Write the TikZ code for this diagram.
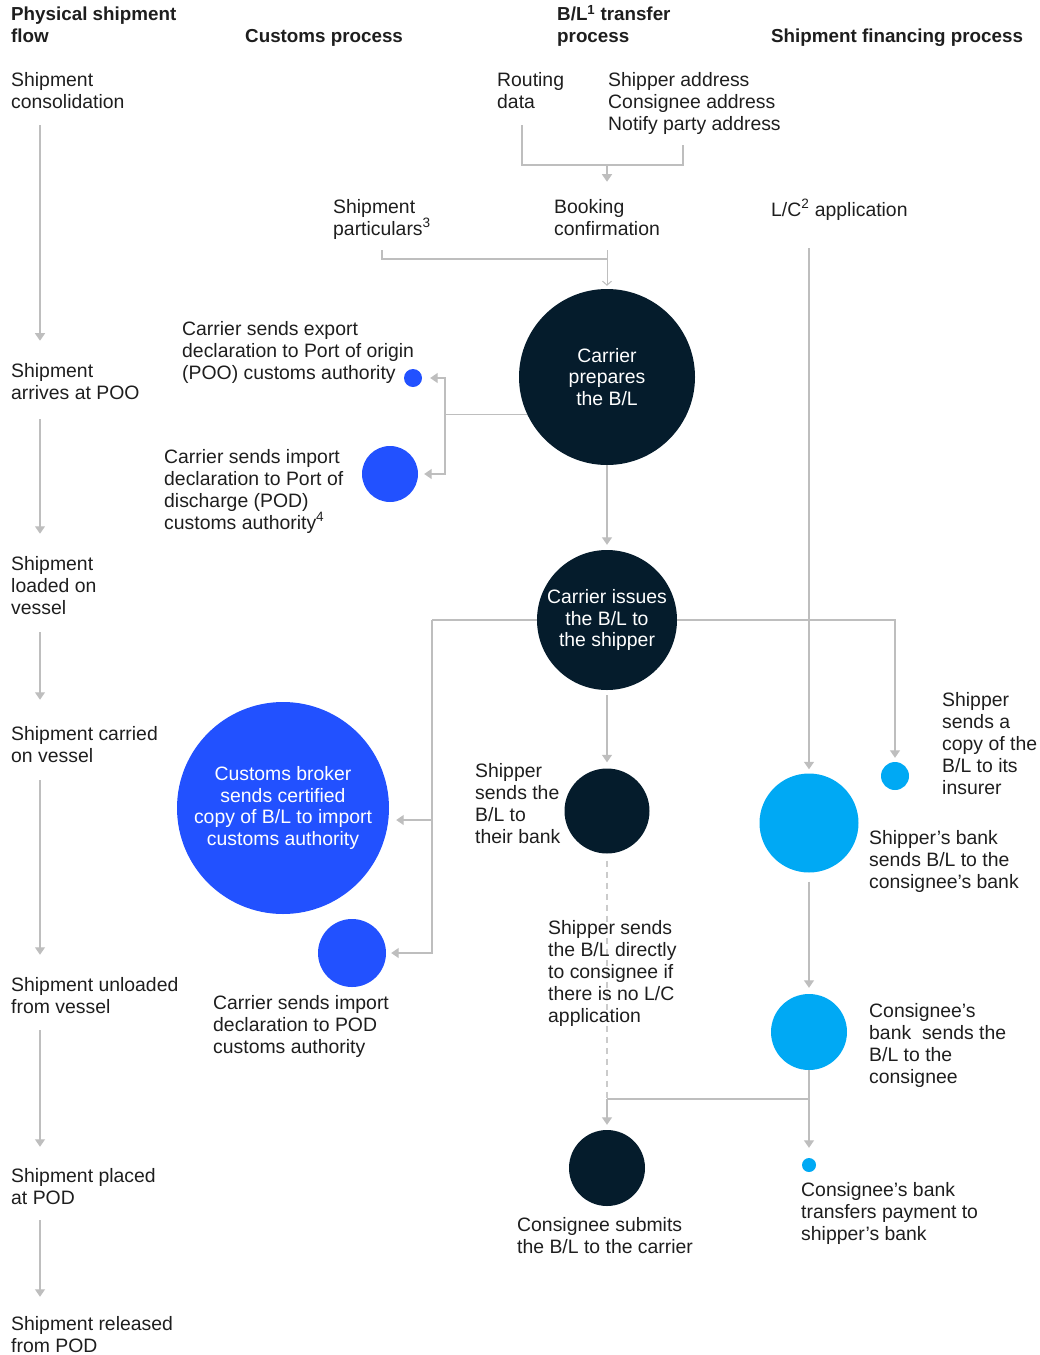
\documentclass[tikz,border=0pt]{standalone}
\usepackage{fontspec}
\setmainfont{Liberation Sans}
\usepackage{xcolor}
\usepackage{tikz}
\usetikzlibrary{math,arrows.meta}

\definecolor{navy}{HTML}{051C2C}
\definecolor{royal}{HTML}{2251FF}
\definecolor{sky}{HTML}{00A9F4}
\definecolor{linegray}{HTML}{BEBEBE}
\definecolor{ink}{HTML}{1E1E1E}

\tikzset{
	txt/.style={anchor=base west, inner sep=0pt, align=left, text=ink, font=\fontsize{19.4}{22}\selectfont},
	head/.style={txt, font=\fontsize{18.8}{21.5}\selectfont\bfseries},
	link/.style={draw=linegray, line width=1.3pt},
	arr/.style={link, -{Triangle[length=7.5pt,width=10pt]}},
	barb/.style={link, line width=1pt, -{Straight Barb[length=4pt,width=9pt]}},
	bub/.style={circle, inner sep=0pt, minimum size=#1, align=center, text=white, font=\fontsize{19.4}{21.7}\selectfont},
}

\begin{document}
\begin{tikzpicture}[x=1pt,y=-1pt]
\useasboundingbox (0,0) rectangle (1040,1355);
\tikzmath{
	\lx = 11; \cx = 607; \fx = 809;
	% column heads (base = last line)
	{\node[head] (hphys) at (\lx,42) {Physical shipment\\flow};};
	{\node[head] (hcust) at (245,42) {Customs process};};
	{\node[head] (hbl) at (557,42) {B/L\textsuperscript{1} transfer\\process};};
	{\node[head] (hfin) at (771,42) {Shipment financing process};};
	%
	% physical flow
	{\node[txt] (s1) at (\lx,108) {Shipment\\consolidation};};
	{\node[txt] (s2) at (\lx,399) {Shipment\\arrives at POO};};
	{\node[txt] (s3) at (\lx,614) {Shipment\\loaded on\\vessel};};
	{\node[txt] (s4) at (\lx,762) {Shipment carried\\on vessel};};
	{\node[txt] (s5) at (\lx,1013) {Shipment unloaded\\from vessel};};
	{\node[txt] (s6) at (\lx,1204) {Shipment placed\\at POD};};
	{\node[txt] (s7) at (\lx,1352) {Shipment released\\from POD};};
	{\draw[arr] ([xshift=29pt,yshift=-17pt]s1.south west) -- ([xshift=29pt,yshift=22pt]s2.north west);};
	{\draw[arr] ([xshift=29pt,yshift=-20pt]s2.south west) -- ([xshift=29pt,yshift=22pt]s3.north west);};
	{\draw[arr] ([xshift=29pt,yshift=-18pt]s3.south west) -- ([xshift=29pt,yshift=26pt]s4.north west);};
	{\draw[arr] ([xshift=29pt,yshift=-18pt]s4.south west) -- ([xshift=29pt,yshift=22pt]s5.north west);};
	{\draw[arr] ([xshift=29pt,yshift=-17pt]s5.south west) -- ([xshift=29pt,yshift=21pt]s6.north west);};
	{\draw[arr] ([xshift=29pt,yshift=-16pt]s6.south west) -- ([xshift=29pt,yshift=19pt]s7.north west);};
	%
	% booking
	{\node[txt] (route) at (497,108) {Routing\\data};};
	{\node[txt] (addr) at (608,130) {Shipper address\\Consignee address\\Notify party address};};
	{\node[txt] (book) at (554,235) {Booking\\confirmation};};
	{\node[txt] (part) at (333,235) {Shipment\\particulars\textsuperscript{3}};};
	{\node[txt] (lc) at (771,216) {L/C\textsuperscript{2} application};};
	{\coordinate (rt) at (522,125);};
	{\coordinate (ad) at (683,145);};
	{\coordinate (mg) at (\cx,165);};
	{\coordinate (bk) at (\cx,259);};
	{\draw[link] (rt) |- (mg) -| (ad);};
	{\draw[arr, shorten >=17pt] (mg) -- (mg |- book.north);};
	%
	% B/L circles
	{\node[bub=176, fill=navy] (prep) at (\cx,377) {Carrier\\prepares\\the B/L};};
	{\node[bub=140, fill=navy] (issue) at (\cx,620) {Carrier issues\\the B/L to\\the shipper};};
	{\node[bub=85, fill=navy] (bank) at (\cx,811) {};};
	{\node[bub=76, fill=navy] (submit) at (\cx,1168) {};};
	{\path (book.south -| prep.north) ++(0,15) coordinate (bt);};
	{\path (part.south) ++(0,11) coordinate (pt);};
	{\draw[link] (pt) |- (bk);};
	{\draw[barb, shorten >=3pt] (bt) -- (prep.north);};
	{\draw[arr, shorten >=5pt] (prep) -- (issue);};
	{\draw[arr, shorten <=5pt, shorten >=6pt] (issue) -- (bank);};
	{\coordinate (j1) at (\cx,1099);};
	{\draw[link, draw=linegray!80, dash pattern=on 6pt off 5pt, shorten <=7pt] (bank) -- (j1);};
	{\draw[arr, shorten >=5pt] (j1) -- (submit);};
	{\node[txt] (tbank) at (475,843) {Shipper\\sends the\\B/L to\\their bank};};
	{\node[txt] (tdirect) at (548,1022) {Shipper sends\\the B/L directly\\to consignee if\\there is no L/C\\application};};
	{\node[txt] (tsubmit) at (517,1253) {Consignee submits\\the B/L to the carrier};};
	%
	% customs
	{\node[bub=18, fill=royal] (expt) at (413,378) {};};
	{\node[bub=56, fill=royal] (impt) at (390,474) {};};
	{\node[bub=212, fill=royal] (broker) at (283,808) {Customs broker\\sends certified\\copy of B/L to import\\customs authority};};
	{\node[bub=68, fill=royal] (cimp) at (352,953) {};};
	{\node[txt] (texpt) at (182,379) {Carrier sends export\\declaration to Port of origin\\(POO) customs authority};};
	{\node[txt] (timpt) at (164,529) {Carrier sends import\\declaration to Port of\\discharge (POD)\\customs authority\textsuperscript{4}};};
	{\node[txt] (tcimp) at (213,1053) {Carrier sends import\\declaration to POD\\customs authority};};
	{\coordinate (sp) at (445,415);};
	{\draw[link] (prep.205) -- (prep.205 -| sp);};
	{\draw[arr, shorten >=8pt] (prep.205 -| sp) |- (expt);};
	{\draw[arr, shorten >=6pt] (prep.205 -| sp) |- (impt);};
	{\coordinate (jl) at (432,622);};
	{\draw[link] (issue.west) -- (issue.west -| jl);};
	{\draw[arr, shorten >=7pt] (issue.west -| jl) |- ([yshift=-12pt]broker.east);};
	{\draw[arr, shorten >=5pt] (issue.west -| jl) |- (cimp);};
	%
	% financing
	{\node[bub=28, fill=sky] (ins) at (895,776) {};};
	{\node[bub=99, fill=sky] (sbank) at (\fx,823) {};};
	{\node[bub=76, fill=sky] (cbank) at (\fx,1032) {};};
	{\node[bub=14, fill=sky] (pay) at (\fx,1165) {};};
	{\node[txt] (tins) at (942,794) {Shipper\\sends a\\copy of the\\B/L to its\\insurer};};
	{\node[txt] (tsbank) at (869,888) {Shipper’s bank\\sends B/L to the\\consignee’s bank};};
	{\node[txt] (tcbank) at (869,1083) {Consignee’s\\bank\ \ sends the\\B/L to the\\consignee};};
	{\node[txt] (tpay) at (801,1240) {Consignee’s bank\\transfers payment to\\shipper’s bank};};
	{\path (lc.south -| sbank.north) ++(0,28) coordinate (lt);};
	{\draw[arr, shorten >=4pt] (lt) -- (sbank);};
	{\draw[arr, shorten >=4pt] (issue.east) -| (ins);};
	{\draw[arr, shorten <=9pt, shorten >=6pt] (sbank) -- (cbank);};
	{\draw[arr, shorten >=10pt] (cbank) -- (pay);};
	{\coordinate (j2) at (\fx,1099);};
	{\draw[link] (j2) -- (j1);};
};
\end{tikzpicture}
\end{document}
